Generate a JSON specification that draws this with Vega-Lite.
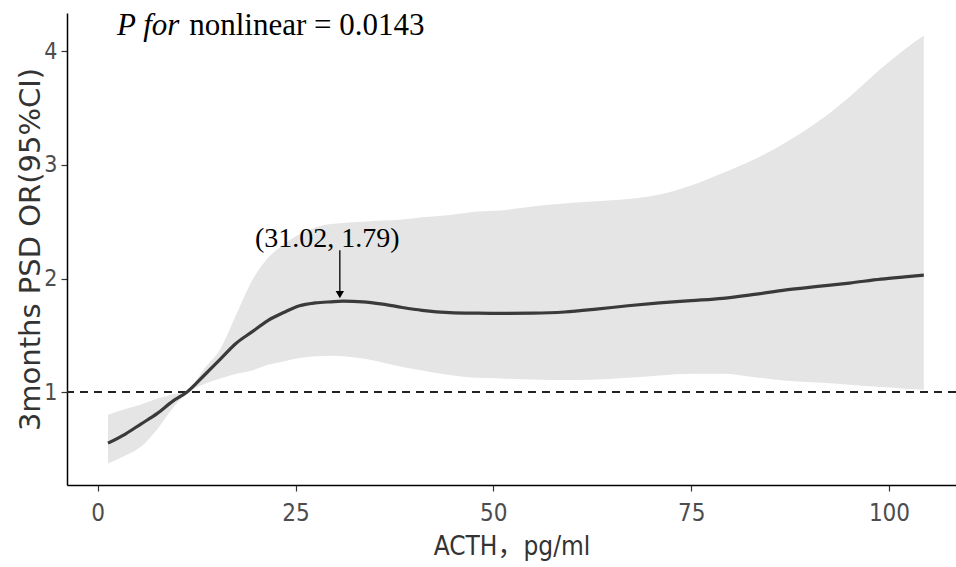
{
  "$schema": "https://vega.github.io/schema/vega-lite/v6.json",
  "width": 889,
  "height": 472,
  "autosize": {"type": "none"},
  "padding": {"left": 67, "top": 13, "right": 0, "bottom": 82},
  "background": "white",
  "config": {
    "view": {"stroke": null},
    "axis": {
      "grid": false,
      "domainColor": "#000000",
      "domainWidth": 1.5,
      "tickColor": "#333333",
      "tickWidth": 1.2,
      "tickSize": 6,
      "labelColor": "#4D4D4D",
      "labelFont": "Liberation Sans Narrow, DejaVu Sans Condensed, Liberation Sans",
      "titleColor": "#333333",
      "titleFontWeight": "normal"
    }
  },
  "datasets": {
    "curve": [
      {"acth": 1.3, "or": 0.55, "lo": 0.37, "hi": 0.80},
      {"acth": 3.5, "or": 0.63, "lo": 0.44, "hi": 0.85},
      {"acth": 5.5, "or": 0.72, "lo": 0.52, "hi": 0.89},
      {"acth": 7.5, "or": 0.81, "lo": 0.67, "hi": 0.94},
      {"acth": 9.5, "or": 0.92, "lo": 0.86, "hi": 0.98},
      {"acth": 11.3, "or": 1.0, "lo": 0.99, "hi": 1.01},
      {"acth": 13.5, "or": 1.15, "lo": 1.07, "hi": 1.21},
      {"acth": 15.5, "or": 1.29, "lo": 1.12, "hi": 1.38},
      {"acth": 17.5, "or": 1.43, "lo": 1.16, "hi": 1.68},
      {"acth": 19.5, "or": 1.53, "lo": 1.19, "hi": 1.98},
      {"acth": 21.5, "or": 1.63, "lo": 1.24, "hi": 2.18},
      {"acth": 23.5, "or": 1.70, "lo": 1.27, "hi": 2.30},
      {"acth": 25.5, "or": 1.76, "lo": 1.30, "hi": 2.39},
      {"acth": 27.5, "or": 1.785, "lo": 1.315, "hi": 2.45},
      {"acth": 29.5, "or": 1.795, "lo": 1.32, "hi": 2.48},
      {"acth": 31.0, "or": 1.80, "lo": 1.315, "hi": 2.49},
      {"acth": 33.5, "or": 1.795, "lo": 1.295, "hi": 2.50},
      {"acth": 36.0, "or": 1.775, "lo": 1.26, "hi": 2.51},
      {"acth": 38.5, "or": 1.745, "lo": 1.22, "hi": 2.52},
      {"acth": 41.0, "or": 1.72, "lo": 1.19, "hi": 2.54},
      {"acth": 44.5, "or": 1.70, "lo": 1.15, "hi": 2.56},
      {"acth": 48.0, "or": 1.695, "lo": 1.125, "hi": 2.59},
      {"acth": 51.0, "or": 1.693, "lo": 1.12, "hi": 2.60},
      {"acth": 55.0, "or": 1.695, "lo": 1.11, "hi": 2.635},
      {"acth": 59.0, "or": 1.705, "lo": 1.105, "hi": 2.66},
      {"acth": 63.0, "or": 1.73, "lo": 1.11, "hi": 2.68},
      {"acth": 67.0, "or": 1.76, "lo": 1.125, "hi": 2.70},
      {"acth": 71.0, "or": 1.785, "lo": 1.145, "hi": 2.74},
      {"acth": 75.0, "or": 1.805, "lo": 1.16, "hi": 2.82},
      {"acth": 79.0, "or": 1.825, "lo": 1.16, "hi": 2.93},
      {"acth": 83.0, "or": 1.86, "lo": 1.13, "hi": 3.05},
      {"acth": 87.0, "or": 1.90, "lo": 1.10, "hi": 3.20},
      {"acth": 91.0, "or": 1.93, "lo": 1.085, "hi": 3.38},
      {"acth": 95.0, "or": 1.96, "lo": 1.065, "hi": 3.60},
      {"acth": 99.0, "or": 1.995, "lo": 1.045, "hi": 3.85},
      {"acth": 102.0, "or": 2.015, "lo": 1.03, "hi": 4.02},
      {"acth": 104.4, "or": 2.03, "lo": 1.02, "hi": 4.14}
    ]
  },
  "layer": [
    {
      "data": {"name": "curve"},
      "mark": {"type": "area", "color": "#E5E5E5", "opacity": 1, "interpolate": "monotone"},
      "encoding": {
        "x": {
          "field": "acth", "type": "quantitative",
          "scale": {"domain": [-3.88, 108.47], "nice": false, "zero": false},
          "axis": {
            "values": [0, 25, 50, 75, 100],
            "labelFontSize": 24,
            "labelPadding": 10,
            "title": "ACTH，pg/ml",
            "titleFont": "Liberation Sans Narrow, DejaVu Sans Condensed, Noto Sans CJK SC",
            "titleFontSize": 26,
            "titlePadding": 8
          }
        },
        "y": {
          "field": "lo", "type": "quantitative",
          "scale": {"domain": [0.181, 4.339], "nice": false, "zero": false},
          "axis": {
            "values": [1, 2, 3, 4],
            "format": "d",
            "labelFontSize": 23,
            "labelPadding": 4,
            "title": "3months PSD OR(95%CI)",
            "titleFont": "DejaVu Sans",
            "titleFontSize": 29,
            "titleX": -37,
            "titleY": 236,
            "titleBaseline": "middle",
            "titleAngle": -90
          }
        },
        "y2": {"field": "hi"}
      }
    },
    {
      "data": {"values": [{"ref": 1}]},
      "mark": {"type": "rule", "color": "#222222", "strokeWidth": 2, "strokeDash": [8, 6]},
      "encoding": {"y": {"field": "ref", "type": "quantitative"}}
    },
    {
      "data": {"name": "curve"},
      "mark": {"type": "line", "color": "#3a3a3a", "strokeWidth": 3.2, "interpolate": "monotone"},
      "encoding": {
        "x": {"field": "acth", "type": "quantitative"},
        "y": {"field": "or", "type": "quantitative"}
      }
    },
    {
      "data": {"values": [{"ax": 30.6, "top": 2.25, "bot": 1.88}]},
      "mark": {"type": "rule", "color": "#000000", "strokeWidth": 1.3},
      "encoding": {
        "x": {"field": "ax", "type": "quantitative"},
        "y": {"field": "top", "type": "quantitative"},
        "y2": {"field": "bot"}
      }
    },
    {
      "data": {"values": [{"ax": 30.6, "tip": 1.857}]},
      "mark": {"type": "point", "shape": "triangle-down", "filled": true, "color": "#000000", "size": 70, "opacity": 1},
      "encoding": {
        "x": {"field": "ax", "type": "quantitative"},
        "y": {"field": "tip", "type": "quantitative"}
      }
    },
    {
      "data": {"values": [{"tx": 19.88, "ty": 2.278, "label": "(31.02, 1.79)"}]},
      "mark": {"type": "text", "align": "left", "baseline": "alphabetic", "font": "Liberation Serif", "fontSize": 28, "color": "#000000"},
      "encoding": {
        "x": {"field": "tx", "type": "quantitative"},
        "y": {"field": "ty", "type": "quantitative"},
        "text": {"field": "label"}
      }
    },
    {
      "data": {"values": [{"tx": 2.44, "ty": 4.145, "label": "P for"}]},
      "mark": {"type": "text", "align": "left", "baseline": "alphabetic", "font": "Liberation Serif", "fontStyle": "italic", "fontSize": 31, "color": "#000000"},
      "encoding": {
        "x": {"field": "tx", "type": "quantitative"},
        "y": {"field": "ty", "type": "quantitative"},
        "text": {"field": "label"}
      }
    },
    {
      "data": {"values": [{"tx": 11.56, "ty": 4.145, "label": "nonlinear = 0.0143"}]},
      "mark": {"type": "text", "align": "left", "baseline": "alphabetic", "font": "Liberation Serif", "fontSize": 31, "color": "#000000"},
      "encoding": {
        "x": {"field": "tx", "type": "quantitative"},
        "y": {"field": "ty", "type": "quantitative"},
        "text": {"field": "label"}
      }
    }
  ]
}
